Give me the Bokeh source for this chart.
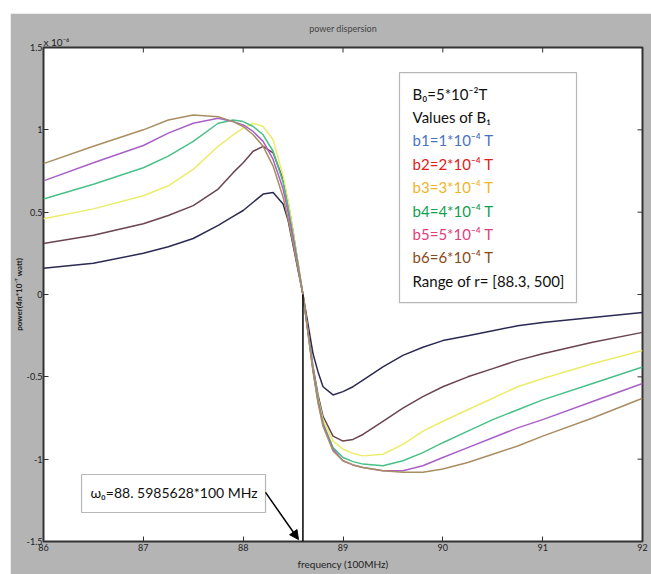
import math
from bokeh.plotting import figure
from bokeh.models import (FixedTicker, Label, BoxAnnotation, Arrow, Title,
                          NormalHead, Spacer, Range1d)
from bokeh.layouts import row, column
from bokeh.embed import file_html
from bokeh.resources import INLINE

# ---------------- data ----------------
freq = [86, 86.5, 87, 87.25, 87.5, 87.75, 87.9, 88, 88.1, 88.2, 88.3, 88.4, 88.45, 88.5, 88.5986,
        88.7, 88.75, 88.8, 88.9, 89, 89.1, 89.2, 89.4, 89.6, 89.8, 90, 90.25, 90.5, 90.75, 91, 91.5, 92]

b1 = [0.16, 0.19, 0.25, 0.29, 0.34, 0.42, 0.475, 0.51, 0.56, 0.61, 0.62, 0.55, 0.45, 0.30, 0.0,
      -0.36, -0.47, -0.56, -0.61, -0.59, -0.56, -0.52, -0.44, -0.37, -0.32, -0.28, -0.25, -0.22, -0.19, -0.17, -0.14, -0.11]
b2 = [0.31, 0.36, 0.43, 0.48, 0.54, 0.64, 0.74, 0.80, 0.87, 0.90, 0.86, 0.70, 0.56, 0.38, 0.0,
      -0.44, -0.61, -0.74, -0.86, -0.89, -0.88, -0.85, -0.77, -0.69, -0.62, -0.56, -0.50, -0.45, -0.40, -0.36, -0.29, -0.23]
b3 = [0.46, 0.52, 0.60, 0.66, 0.76, 0.90, 0.97, 1.01, 1.04, 1.02, 0.94, 0.72, 0.57, 0.38, 0.0,
      -0.46, -0.63, -0.76, -0.89, -0.94, -0.965, -0.98, -0.97, -0.91, -0.83, -0.77, -0.70, -0.63, -0.56, -0.51, -0.42, -0.34]
b4 = [0.58, 0.67, 0.77, 0.84, 0.93, 1.04, 1.06, 1.05, 1.02, 0.97, 0.87, 0.68, 0.53, 0.36, 0.0,
      -0.46, -0.64, -0.78, -0.93, -0.99, -1.015, -1.03, -1.04, -1.01, -0.96, -0.90, -0.83, -0.76, -0.70, -0.64, -0.54, -0.44]
b5 = [0.69, 0.80, 0.905, 0.98, 1.04, 1.07, 1.05, 1.03, 0.99, 0.93, 0.82, 0.64, 0.50, 0.34, 0.0,
      -0.46, -0.65, -0.79, -0.94, -1.01, -1.035, -1.05, -1.07, -1.07, -1.04, -0.99, -0.93, -0.87, -0.81, -0.76, -0.65, -0.54]
b6 = [0.795, 0.90, 1.0, 1.06, 1.09, 1.08, 1.05, 1.02, 0.97, 0.90, 0.78, 0.59, 0.46, 0.31, 0.0,
      -0.47, -0.66, -0.80, -0.95, -1.01, -1.035, -1.05, -1.07, -1.08, -1.08, -1.06, -1.02, -0.97, -0.92, -0.86, -0.75, -0.63]

series = [b1, b2, b3, b4, b5, b6]
line_colors = ["#2a2a52", "#6a4450", "#ecec6a", "#48c088", "#a860c8", "#a88e60"]

x_ticks = [86, 87, 88, 89, 90, 91, 92]
y_ticks = [-1.5, -1.0, -0.5, 0.0, 0.5, 1.0, 1.5]
y_tick_labels = ["-1.5", "-1", "-0.5", "0", "0.5", "1", "1.5"]

w0 = 88.5985628

legend_lines = ["B\u2080=5*10\u207b\u00b2T", "Values of B\u2081",
                "b1=1*10\u207b\u2074 T", "b2=2*10\u207b\u2074 T", "b3=3*10\u207b\u2074 T",
                "b4=4*10\u207b\u2074 T", "b5=5*10\u207b\u2074 T", "b6=6*10\u207b\u2074 T",
                "Range of r= [88.3, 500]"]
legend_colors = ["#111111", "#111111", "#4a72c0", "#e02020", "#f0b428",
                 "#10a050", "#e0407c", "#8a4a20", "#111111"]

# ---------------- figure ----------------
FONT = "Lato"
GREY = "#b4b4b4"
TICK = "#333333"

p = figure(width=641, height=561, x_range=Range1d(86, 92), y_range=Range1d(-1.5, 1.5),
           output_backend="svg", toolbar_location=None,
           min_border_left=33, min_border_right=9, min_border_top=34, min_border_bottom=33,
           background_fill_color="white", border_fill_color=GREY,
           title="power dispersion")
p.title.align = "center"
p.title.text_font = FONT
p.title.text_font_size = "9px"
p.title.text_font_style = "normal"
p.title.standoff = 0
p.add_layout(Title(text="x 10\u207b\u2076", align="left", text_font=FONT,
                   text_font_size="10px", text_font_style="normal", standoff=0,
                   text_color="#222222"), "above")
p.xgrid.visible = False
p.ygrid.visible = False
p.outline_line_color = "#333333"
p.outline_line_width = 2

xa = p.xaxis[0]
ya = p.yaxis[0]
xa.ticker = FixedTicker(ticks=x_ticks)
ya.ticker = FixedTicker(ticks=y_ticks)
ya.major_label_overrides = {t: l for t, l in zip(y_ticks, y_tick_labels)}
for ax in (xa, ya):
    ax.axis_line_color = None
    ax.major_tick_in = 5
    ax.major_tick_out = 0
    ax.minor_tick_in = 0
    ax.minor_tick_out = 0
    ax.major_tick_line_color = TICK
    ax.major_label_text_font = FONT
    ax.major_label_text_color = "#222222"
    ax.major_label_text_font_size = "9px"
    ax.major_label_standoff = 1
    ax.axis_label_text_font = FONT
    ax.axis_label_text_color = "#222222"
xa.major_label_standoff = 2
xa.axis_label = "frequency (100MHz)"
ya.axis_label = "power(4\u03c0*10\u207b\u2077 watt)"
xa.axis_label_text_font_size = "10px"
xa.axis_label_text_font_style = "normal"
xa.axis_label_standoff = 4
ya.axis_label_text_font_size = "8px"
ya.axis_label_text_font_style = "bold"
ya.axis_label_standoff = 0

# inward ticks on the top and right edges of the box
p.ray(x=x_ticks, y=[y_ticks[-1]] * len(x_ticks), length=5, length_units="screen",
      angle=-math.pi / 2, line_color=TICK, line_width=1)
p.ray(x=[x_ticks[-1]] * len(y_ticks), y=y_ticks, length=5, length_units="screen",
      angle=math.pi, line_color=TICK, line_width=1)

# curves
for ys, c in zip(series, line_colors):
    p.line(freq, ys, line_color=c, line_width=1.5)

# resonance marker
p.segment(x0=[w0], y0=[0], x1=[w0], y1=[y_ticks[0]], line_color="black", line_width=1.5)

# legend box
p.add_layout(BoxAnnotation(left=89.566, right=91.339, top=1.348, bottom=-0.049,
                           fill_color="white", fill_alpha=1, line_color="#111111",
                           line_width=1.2))
for i, (t, c) in enumerate(zip(legend_lines, legend_colors)):
    p.add_layout(Label(x=89.697, y=1.220 - i * 0.142, text=t, text_color=c,
                       text_font=FONT, text_font_size="15px",
                       text_baseline="middle"))

# omega box
p.add_layout(BoxAnnotation(left=86.381, right=88.224, top=-1.093, bottom=-1.324,
                           fill_color="white", fill_alpha=1, line_color="#111111",
                           line_width=1.2))
p.add_layout(Label(x=86.47, y=-1.205, text="\u03c9\u2080=88. 5985628*100 MHz", text_color="#111111",
                   text_font=FONT, text_font_size="14px", text_baseline="middle"))
p.add_layout(Arrow(end=NormalHead(size=9, fill_color="black", line_color="black"),
                   x_start=88.224, y_start=-1.202, x_end=88.554, y_end=-1.488,
                   line_width=1.5, line_color="black"))

layout = row(Spacer(width=10, height=574), column(Spacer(width=641, height=13), p))
open("out.html", "w").write(file_html(layout, INLINE))
